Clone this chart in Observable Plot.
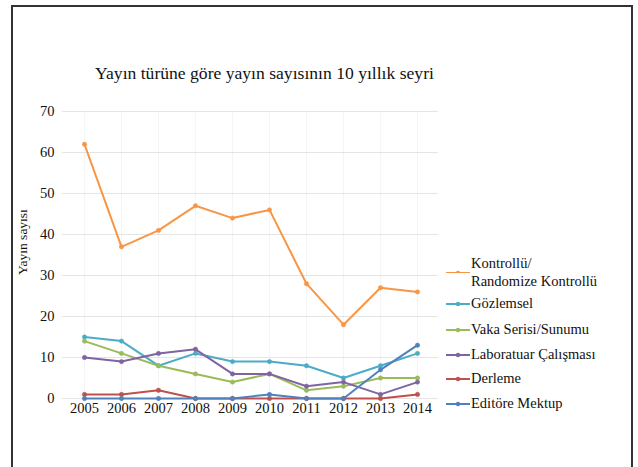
<!DOCTYPE html>
<html><head><meta charset="utf-8">
<script src="https://cdn.jsdelivr.net/npm/d3@7"></script>
<script src="https://cdn.jsdelivr.net/npm/@observablehq/plot@0.6"></script>
<style>
body{margin:0;background:#fff;font-family:"Liberation Serif",serif;}
#frame{position:absolute;left:11px;top:5px;width:618px;height:480px;border:2px solid #333;border-bottom:none;background:#fff;}
#title{position:absolute;left:0;width:529px;top:63px;text-align:center;font-size:17.6px;color:#111;font-family:"Liberation Serif",serif;}
#chart{position:absolute;left:0;top:90px;}
#legend{position:absolute;left:445px;top:254px;font-size:14.5px;color:#111;font-family:"Liberation Serif",serif;}
.item{display:flex;align-items:flex-start;line-height:18px;}
.item svg{flex:none;margin-top:1px;}
</style></head>
<body>
<div id="frame"></div>
<div id="title">Yayın türüne göre yayın sayısının 10 yıllık seyri</div>
<div id="chart"></div>
<div id="legend"></div>
<script>
const years = ["2005","2006","2007","2008","2009","2010","2011","2012","2013","2014"];
const seriesNames = ["Kontrollü/\nRandomize Kontrollü","Gözlemsel","Vaka Serisi/Sunumu","Laboratuar Çalışması","Derleme","Editöre Mektup"];
const kontrollu = [62,37,41,47,44,46,28,18,27,26];
const gozlemsel = [15,14,8,11,9,9,8,5,8,11];
const vaka = [14,11,8,6,4,6,2,3,5,5];
const laboratuar = [10,9,11,12,6,6,3,4,1,4];
const derleme = [1,1,2,0,0,0,0,0,0,1];
const editore = [0,0,0,0,0,1,0,0,7,13];
const colors = ["#f79646","#4bacc6","#9bbb59","#8064a2","#c0504d","#4f81bd"];
const yTicks = [0,10,20,30,40,50,60,70];

const allValues = [kontrollu,gozlemsel,vaka,laboratuar,derleme,editore];
const data = [];
allValues.forEach((vals,si)=>vals.forEach((v,i)=>data.push({year:years[i],value:v,series:seriesNames[si]})));

const FF = "Liberation Serif, serif";
const chart = Plot.plot({
  width: 638, height: 340,
  marginLeft: 62, marginRight: 200, marginTop: 21, marginBottom: 32,
  style:{fontFamily:FF, fontSize:"14.5px", color:"#111", background:"transparent"},
  x:{type:"point", domain:years, padding:0.5, label:null},
  y:{domain:[0,70], ticks:yTicks, label:null},
  color:{domain:seriesNames, range:colors},
  marks:[
    Plot.gridX(years,{stroke:"#000",strokeOpacity:0.04}),
    Plot.gridY(yTicks,{stroke:"#000",strokeOpacity:0.1}),
    Plot.axisY(yTicks,{tickSize:0, tickPadding:8, fontSize:14.5, fontFamily:FF}),
    Plot.axisX(years,{tickSize:0, tickPadding:4, fontSize:14.5, fontFamily:FF}),
    Plot.line(data,{x:"year",y:"value",z:"series",stroke:"series",strokeWidth:2}),
    Plot.dot(data,{x:"year",y:"value",fill:"series",r:2.2,stroke:"series",strokeWidth:0.5})
  ]
});
document.getElementById("chart").appendChild(chart);

// y-axis label
const yl = document.createElement("div");
yl.textContent = "Yayın sayısı";
yl.style.cssText = "position:absolute;left:23px;top:242px;transform:translate(-50%,-50%) rotate(-90deg);font-size:13.5px;color:#111;white-space:nowrap;font-family:'Liberation Serif',serif;";
document.body.appendChild(yl);

// legend
const lg = document.getElementById("legend");
const gaps = [0,4,7,6,5,6];
seriesNames.forEach((name,i)=>{
  const d = document.createElement("div");
  d.className="item";
  d.style.marginTop = gaps[i]+"px";
  const ly = i===0?18:9;
  d.innerHTML = `<svg width="26" height="18"><line x1="1" x2="25" y1="${ly}" y2="${ly}" stroke="${colors[i]}" stroke-width="2"/><circle cx="13" cy="${ly}" r="2.2" fill="${colors[i]}"/></svg><span>${name.replace("\n","<br>")}</span>`;
  lg.appendChild(d);
});
</script>
</body></html>
